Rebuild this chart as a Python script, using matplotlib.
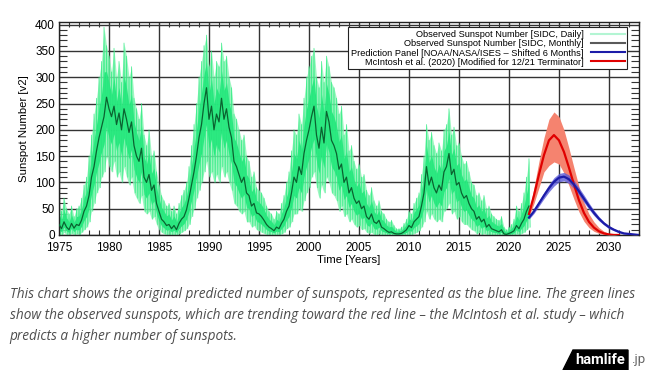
import numpy as np
import matplotlib
matplotlib.use("Agg")
import matplotlib.pyplot as plt
import matplotlib.ticker as ticker
from matplotlib.lines import Line2D
from matplotlib.patches import Polygon

# observed data, quarterly samples from 1975.0 to 2022.0
obs_start = 1975.0
obs_step = 0.25

monthly = [
    20, 12, 25, 15,  10, 22, 13, 20,  18, 28, 45, 55,  75, 110, 130, 160,
    185, 205, 225, 262,  240, 225, 245, 210,  232, 200, 240, 220,  195, 215, 170, 150,
    140, 165, 110, 100,  115, 85, 95, 60,  45, 30, 25, 18,  20, 12, 18, 10,
    22, 30, 35, 48,  70, 95, 120, 150,  185, 210, 250, 280,  220, 245, 200, 230,
    215, 260, 220, 240,  205, 185, 140, 130,  115, 100, 110, 80,  75, 55, 60, 42,
    40, 35, 28, 20,  15, 12, 8, 15,  12, 22, 30, 45,  55, 80, 110, 100,
    130, 115, 155, 180,  200, 225, 245, 190,  165, 205, 175, 235,  215, 180, 170, 155,
    125, 135, 100, 110,  80, 90, 70, 60,  65, 50, 55, 35,  30, 40, 25, 22,
    28, 15, 12, 8,  5, 6, 3, 2,  2, 3, 6, 10,  18, 14, 25, 30,
    35, 55, 80, 130,  95, 110, 90, 80,  95, 85, 120, 130,  155, 115, 125, 95,
    100, 80, 70, 75,  60, 50, 45, 30,  35, 25, 30, 15,  20, 12, 10, 8,
    6, 10, 2, 1,  3, 5, 8, 18,  12, 22, 30, 45,  55,
]

daily_hi = [
    60, 45, 70, 50,  40, 55, 35, 50,  55, 70, 95, 110,  150, 190, 230, 260,
    300, 330, 395, 360,  340, 310, 355, 300,  330, 290, 365, 340,  300, 320, 260, 240,
    220, 250, 190, 170,  200, 150, 160, 120,  95, 75, 65, 55,  60, 45, 55, 40,
    60, 75, 85, 100,  130, 170, 210, 250,  300, 330, 360, 380,  320, 350, 300, 330,
    320, 365, 330, 340,  300, 280, 230, 220,  200, 180, 190, 150,  140, 110, 120, 90,
    85, 80, 70, 55,  45, 40, 30, 45,  40, 60, 75, 100,  120, 160, 200, 190,
    230, 210, 260, 300,  320, 340, 355, 300,  280, 330, 290, 340,  320, 290, 280, 260,
    230, 245, 190, 210,  160, 170, 140, 125,  135, 110, 115, 85,  75, 90, 65, 55,
    65, 45, 40, 30,  25, 28, 18, 12,  12, 15, 22, 30,  45, 40, 60, 70,
    80, 115, 150, 210,  180, 195, 170, 155,  175, 160, 200, 210,  240, 190, 205, 170,
    175, 150, 135, 140,  120, 100, 95, 75,  80, 65, 75, 50,  55, 40, 35, 30,
    28, 35, 15, 10,  15, 20, 30, 55,  45, 60, 80, 110,  145,
]

daily_lo = [
    0, 0, 5, 0,  0, 3, 0, 2,  0, 5, 10, 15,  25, 45, 60, 80,
    90, 110, 120, 150,  130, 120, 140, 110,  120, 100, 130, 110,  95, 110, 80, 70,
    60, 75, 45, 40,  45, 30, 35, 20,  10, 5, 2, 0,  0, 0, 0, 0,
    2, 5, 8, 12,  20, 35, 50, 70,  85, 100, 120, 140,  110, 120, 100, 115,
    100, 130, 110, 120,  100, 85, 60, 55,  45, 40, 45, 25,  25, 15, 18, 10,
    8, 5, 3, 0,  0, 0, 0, 0,  0, 2, 5, 12,  15, 25, 40, 40,
    50, 45, 65, 80,  90, 110, 120, 90,  70, 95, 80, 110,  100, 80, 75, 65,
    45, 55, 35, 40,  25, 30, 20, 15,  18, 10, 12, 5,  3, 5, 0, 0,
    2, 0, 0, 0,  0, 0, 0, 0,  0, 0, 0, 0,  0, 0, 3, 5,
    8, 15, 25, 45,  30, 40, 30, 25,  30, 25, 45, 50,  60, 40, 45, 30,
    35, 25, 20, 20,  15, 10, 8, 2,  5, 0, 3, 0,  0, 0, 0, 0,
    0, 0, 0, 0,  0, 0, 0, 2,  0, 3, 5, 10,  15,
]

# predictions, half-year samples from 2022.0
pred_start = 2022.0
pred_step = 0.5
noaa = [33, 45, 60, 75, 89, 101, 109, 111, 106, 96, 83, 69, 55, 42, 31, 22,
        15, 10, 6, 3, 2, 1, 0]
noaa_err = [3, 4, 5, 6, 7, 8, 8, 8, 8, 8, 7, 7, 6, 5, 4, 3, 3, 2, 2, 1, 1, 1, 0]
mcintosh = [40, 75, 115, 152, 180, 190, 180, 158, 128, 96, 66, 42, 25, 14, 7,
            3, 1, 0, 0]
mcintosh_hi = [45, 90, 140, 185, 220, 234, 225, 200, 165, 128, 92, 62, 40, 25,
               14, 7, 3, 1, 0]
mcintosh_lo = [35, 60, 90, 120, 132, 139, 135, 118, 94, 68, 44, 26, 14, 7, 3,
               1, 0, 0, 0]

legend_labels = [
    "Observed Sunspot Number [SIDC, Daily]",
    "Observed Sunspot Number [SIDC, Monthly]",
    "Prediction Panel [NOAA/NASA/ISES \u2013 Shifted 6 Months]",
    "McIntosh et al. (2020) [Modified for 12/21 Terminator]",
]

caption = [
    "This chart shows the original predicted number of sunspots, represented as the blue line. The green lines",
    "show the observed sunspots, which are trending toward the red line \u2013 the McIntosh et al. study \u2013 which",
    "predicts a higher number of sunspots.",
]


def main():
    plt.rcParams["font.family"] = ["Liberation Sans", "DejaVu Sans"]

    monthly_a = np.array(monthly, dtype=float)
    hi = np.array(daily_hi, dtype=float)
    lo = np.array(daily_lo, dtype=float)
    t = obs_start + obs_step * np.arange(len(monthly_a))

    tp = pred_start + pred_step * np.arange(len(noaa))
    tm = pred_start + pred_step * np.arange(len(mcintosh))
    noaa_a = np.array(noaa, dtype=float)
    noaa_e = np.array(noaa_err, dtype=float)

    fig = plt.figure(figsize=(6.5, 3.7), dpi=100)
    ax = fig.add_axes([0.0908, 0.3649, 0.8922, 0.5756])

    # daily observations: pale envelope, brighter core, and spiky trace
    ax.fill_between(t, lo, hi, color="#86f4b2", lw=0, alpha=0.8, zorder=2)
    ax.fill_between(t, (lo + monthly_a) / 2, (hi + monthly_a) / 2,
                    color="#14e373", lw=0, alpha=0.85, zorder=2)
    zig_x = np.column_stack([t, t + obs_step / 2]).ravel()
    zig_y = np.column_stack([hi, lo]).ravel()
    ax.plot(zig_x, zig_y, color="#2eec82", lw=0.6, alpha=0.8, zorder=2)
    ax.plot(t, monthly_a, color="#0a6330", lw=0.9, zorder=3)

    # predictions
    ax.fill_between(tm, mcintosh_lo, mcintosh_hi, color="#f5836f", lw=0,
                    zorder=3)
    ax.fill_between(tp, noaa_a - noaa_e, noaa_a + noaa_e, color="#5a5ad8",
                    lw=0, alpha=0.8, zorder=3)
    ax.plot(tm, mcintosh, color="#e00000", lw=1.6, zorder=4)
    ax.plot(tp, noaa, color="#1c1ca8", lw=1.6, zorder=4)

    ax.set_xlim(1975, 2033)
    ax.set_ylim(0, 405)
    ax.xaxis.set_major_locator(ticker.MultipleLocator(5))
    ax.xaxis.set_minor_locator(ticker.MultipleLocator(1))
    ax.yaxis.set_major_locator(ticker.MultipleLocator(50))
    ax.yaxis.set_minor_locator(ticker.MultipleLocator(10))
    ax.grid(True, which="major", color="#333333", lw=1.0, zorder=1)
    ax.set_axisbelow(True)
    ax.tick_params(which="both", direction="in", top=True, right=True,
                   labelsize=8.5, color="#333333")
    ax.tick_params(axis="x", which="major", length=0, pad=5)
    ax.tick_params(axis="y", which="major", length=0, pad=3)
    ax.tick_params(axis="x", which="minor", length=3.5, width=0.8)
    ax.tick_params(axis="y", which="minor", length=6, width=0.8)
    for sp in ax.spines.values():
        sp.set_linewidth(1.0)
        sp.set_color("#222222")
    ax.set_xlabel("Time [Years]", fontsize=8.2, labelpad=1)
    ax.set_ylabel("Sunspot Number [v2]", fontsize=8.2, labelpad=4)

    handles = [
        Line2D([], [], color="#b3f5d3", lw=1.5),
        Line2D([], [], color="#5a5a5a", lw=1.5),
        Line2D([], [], color="#1c1ca8", lw=1.5),
        Line2D([], [], color="#e00000", lw=1.5),
    ]
    leg = ax.legend(handles, legend_labels, loc="upper right",
                    bbox_to_anchor=(0.98, 0.975), fontsize=6.7,
                    markerfirst=False, fancybox=False, framealpha=1,
                    edgecolor="#222222", handlelength=3.6, handletextpad=0.8,
                    labelspacing=0.02, borderpad=0.3, borderaxespad=0)
    leg.get_frame().set_linewidth(0.8)
    leg.set_zorder(10)

    # caption under the chart
    for i, line in enumerate(caption):
        fig.text(0.015, 1 - (294 + 21.5 * i) / 370, line, fontsize=9.8,
                 family="Open Sans", style="italic", color="#4d4d4d",
                 va="center", ha="left")

    # site logo
    logo = Polygon([(563 / 650, 0), (573 / 650, 20 / 370), (628 / 650, 20 / 370),
                    (628 / 650, 0)], closed=True, transform=fig.transFigure,
                   color="black", zorder=1)
    fig.patches.append(logo)
    fig.text(600 / 650, 10 / 370, "hamlife", fontsize=10.5, weight="bold",
             color="white", ha="center", va="center", family="Roboto",
             zorder=5)
    fig.text(638 / 650, 10 / 370, ".jp", fontsize=9.5, color="#666666",
             ha="center", va="center", family="Roboto", zorder=5)

    fig.savefig("out.png", dpi=100)


if __name__ == "__main__":
    main()
